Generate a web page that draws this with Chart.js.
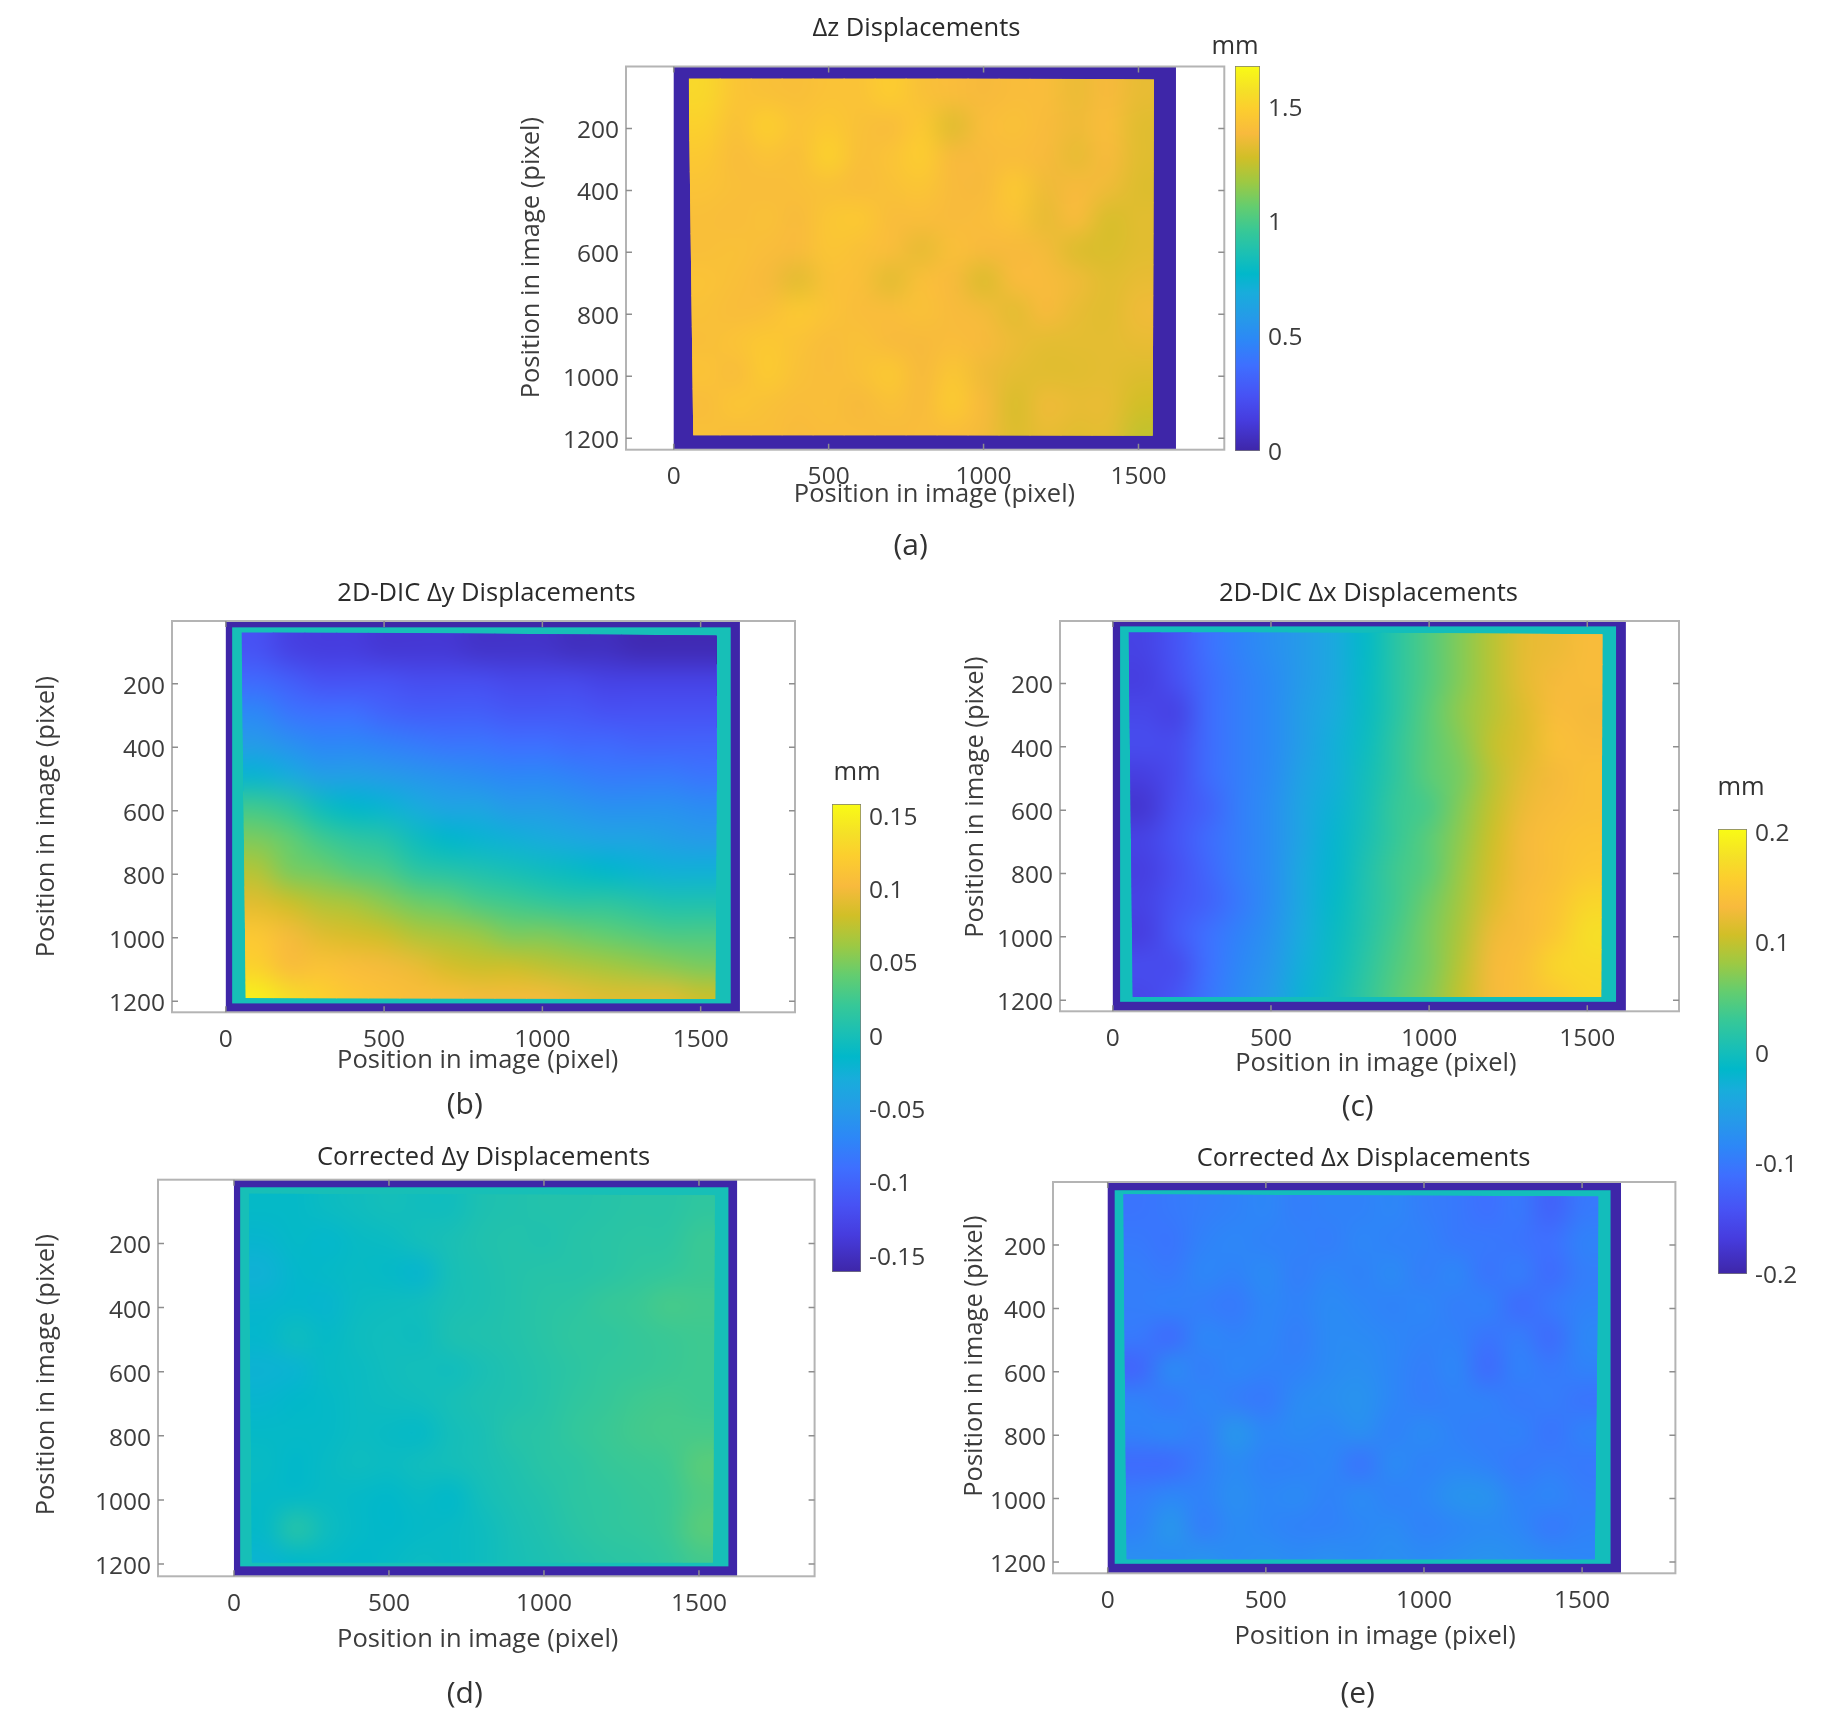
<!DOCTYPE html>
<html>
<head>
<meta charset="utf-8">
<title>Displacements</title>
<style>
  body { margin: 0; background: #fff; }
  #page { position: relative; width: 1822px; height: 1731px; overflow: hidden; }
  canvas { position: absolute; }
  .note { position: absolute; transform: translate(-50%, -50%); white-space: nowrap; color: #333; font-family: "Open Sans", sans-serif; }
</style>
</head>
<body>
<div id="page"></div>
<script src="https://cdn.jsdelivr.net/npm/chart.js@4/dist/chart.umd.js"></script>
<script>
// cell centres of the value grids (image pixels)
const cellX = [100, 200, 300, 400, 500, 600, 700, 800, 900, 1000, 1100, 1200, 1300, 1400, 1500];
const cellY = [90, 190, 290, 390, 490, 590, 690, 790, 890, 990, 1090, 1190];
const xTicks = [0, 500, 1000, 1500];
const yTicks = [200, 400, 600, 800, 1000, 1200];

const zBarTicks = [0, 0.5, 1, 1.5];
const yBarTicks = [-0.15, -0.1, -0.05, 0, 0.05, 0.1, 0.15];
const xBarTicks = [-0.2, -0.1, 0, 0.1, 0.2];

// one row per cellY
const deltaZ = [
  [1.53,1.44,1.42,1.41,1.43,1.43,1.48,1.42,1.40,1.38,1.40,1.40,1.35,1.38,1.34],
  [1.50,1.42,1.49,1.43,1.46,1.42,1.40,1.46,1.32,1.40,1.42,1.39,1.36,1.40,1.32],
  [1.46,1.40,1.43,1.41,1.50,1.41,1.43,1.48,1.38,1.39,1.40,1.38,1.34,1.38,1.32],
  [1.43,1.41,1.40,1.41,1.42,1.40,1.42,1.44,1.39,1.38,1.46,1.36,1.38,1.36,1.31],
  [1.41,1.40,1.42,1.39,1.45,1.46,1.40,1.40,1.39,1.40,1.43,1.34,1.39,1.30,1.32],
  [1.41,1.42,1.40,1.39,1.44,1.42,1.40,1.34,1.41,1.38,1.38,1.37,1.31,1.30,1.32],
  [1.43,1.41,1.38,1.33,1.42,1.41,1.33,1.41,1.38,1.31,1.39,1.39,1.36,1.32,1.34],
  [1.42,1.40,1.41,1.46,1.43,1.40,1.40,1.42,1.39,1.37,1.33,1.38,1.34,1.32,1.36],
  [1.41,1.43,1.46,1.43,1.40,1.42,1.39,1.38,1.40,1.38,1.35,1.33,1.33,1.33,1.34],
  [1.43,1.40,1.47,1.42,1.40,1.42,1.46,1.38,1.45,1.36,1.33,1.32,1.32,1.33,1.31],
  [1.40,1.44,1.42,1.40,1.41,1.38,1.42,1.39,1.47,1.38,1.30,1.36,1.34,1.34,1.28],
  [1.42,1.40,1.41,1.39,1.40,1.40,1.39,1.40,1.40,1.37,1.31,1.34,1.32,1.33,1.25]
];
const dicY = [
  [-.115,-.13,-.135,-.135,-.14,-.14,-.14,-.145,-.145,-.145,-.15,-.15,-.155,-.155,-.155],
  [-.095,-.105,-.115,-.115,-.115,-.12,-.12,-.12,-.125,-.125,-.125,-.13,-.13,-.13,-.13],
  [-.07,-.085,-.09,-.09,-.10,-.105,-.105,-.105,-.11,-.11,-.11,-.115,-.115,-.115,-.115],
  [-.05,-.06,-.07,-.07,-.075,-.08,-.085,-.085,-.09,-.09,-.095,-.095,-.10,-.10,-.10],
  [-.02,-.03,-.045,-.045,-.05,-.055,-.06,-.065,-.07,-.07,-.075,-.08,-.08,-.08,-.085],
  [.025,.015,-.005,-.015,-.02,-.03,-.04,-.04,-.05,-.05,-.055,-.06,-.06,-.06,-.065],
  [.05,.04,.025,.015,.01,-.005,-.015,-.02,-.025,-.03,-.035,-.04,-.04,-.045,-.05],
  [.07,.05,.045,.035,.03,.015,.01,.005,0,-.005,-.01,-.015,-.02,-.025,-.025],
  [.09,.08,.07,.065,.055,.045,.04,.03,.025,.02,.015,.015,.01,.005,.005],
  [.115,.10,.09,.085,.08,.07,.065,.06,.05,.05,.045,.04,.035,.03,.03],
  [.125,.105,.11,.105,.10,.095,.085,.08,.08,.075,.07,.065,.06,.055,.05],
  [.15,.135,.125,.115,.11,.105,.105,.10,.10,.10,.095,.09,.09,.09,.08]
];
const dicX = [
  [-.16,-.14,-.11,-.09,-.075,-.06,-.04,-.012,.02,.045,.07,.095,.12,.125,.135],
  [-.165,-.145,-.115,-.095,-.08,-.06,-.04,-.01,.02,.045,.07,.095,.12,.13,.135],
  [-.155,-.16,-.115,-.095,-.08,-.055,-.035,-.008,.02,.05,.075,.095,.115,.135,.13],
  [-.15,-.15,-.115,-.095,-.08,-.055,-.03,-.005,.025,.05,.07,.10,.115,.14,.135],
  [-.165,-.15,-.115,-.095,-.078,-.05,-.03,0,.025,.05,.065,.095,.12,.13,.14],
  [-.175,-.145,-.125,-.095,-.075,-.045,-.025,.002,.03,.04,.07,.10,.125,.135,.14],
  [-.16,-.14,-.115,-.095,-.075,-.045,-.02,.005,.03,.05,.075,.105,.13,.14,.145],
  [-.165,-.145,-.12,-.095,-.075,-.04,-.018,.01,.035,.05,.08,.11,.13,.14,.15],
  [-.16,-.14,-.125,-.10,-.075,-.04,-.012,.012,.035,.06,.085,.115,.135,.145,.165],
  [-.165,-.135,-.11,-.09,-.07,-.035,-.008,.015,.04,.065,.09,.125,.135,.15,.175],
  [-.15,-.15,-.11,-.085,-.065,-.03,-.005,.02,.045,.065,.095,.13,.14,.165,.17],
  [-.155,-.14,-.105,-.08,-.06,-.025,0,.025,.05,.07,.10,.13,.14,.15,.165]
];
const correctedY = [
  [-.012,-.012,-.008,-.005,-.002,-.004,-.004,.004,.006,.008,.008,.010,.012,.012,.016],
  [-.018,-.012,-.016,-.010,-.008,-.002,.002,.006,.008,.006,.010,.012,.014,.014,.022],
  [-.024,-.016,-.012,-.010,-.012,-.018,.000,.004,.008,.010,.010,.012,.016,.018,.022],
  [-.018,-.016,-.018,-.008,-.006,-.004,.002,.004,.008,.012,.014,.020,.022,.028,.026],
  [-.016,-.006,-.012,-.006,-.004,-.006,.004,.006,.008,.012,.016,.016,.020,.022,.024],
  [-.022,-.020,-.010,-.008,-.004,-.002,-.004,.002,.006,.010,.014,.018,.020,.022,.024],
  [-.018,-.014,-.012,-.008,-.006,-.004,0,.004,.006,.010,.016,.020,.024,.026,.024],
  [-.012,-.012,-.012,-.008,-.010,-.012,-.002,.002,.010,.012,.018,.022,.026,.028,.028],
  [-.010,-.014,-.010,-.006,-.008,-.004,-.002,.002,.006,.012,.014,.020,.022,.024,.036],
  [-.012,-.012,-.010,-.012,-.014,-.010,-.014,-.002,.004,.008,.014,.016,.020,.022,.032],
  [-.012,.010,-.006,-.012,-.014,-.012,-.010,-.006,.002,.006,.012,.016,.018,.022,.036],
  [-.020,-.014,-.012,-.014,-.012,-.008,-.010,-.006,0,.004,.008,.012,.014,.018,.026]
];
const correctedX = [
  [-.105,-.10,-.095,-.09,-.085,-.095,-.09,-.09,-.085,-.095,-.10,-.11,-.10,-.125,-.10],
  [-.10,-.105,-.09,-.085,-.09,-.09,-.095,-.085,-.09,-.09,-.10,-.10,-.105,-.11,-.09],
  [-.095,-.10,-.085,-.09,-.08,-.095,-.085,-.09,-.08,-.095,-.085,-.105,-.095,-.115,-.095],
  [-.095,-.09,-.095,-.10,-.085,-.09,-.08,-.085,-.09,-.085,-.095,-.09,-.115,-.10,-.09],
  [-.10,-.115,-.085,-.09,-.085,-.095,-.08,-.08,-.085,-.09,-.09,-.105,-.095,-.115,-.085],
  [-.12,-.08,-.095,-.085,-.09,-.09,-.08,-.075,-.085,-.095,-.085,-.115,-.09,-.10,-.09],
  [-.09,-.10,-.085,-.095,-.10,-.08,-.075,-.07,-.085,-.095,-.09,-.09,-.10,-.095,-.105],
  [-.09,-.085,-.095,-.065,-.085,-.08,-.085,-.075,-.09,-.08,-.09,-.095,-.09,-.105,-.09],
  [-.115,-.115,-.095,-.08,-.09,-.09,-.085,-.105,-.08,-.09,-.085,-.09,-.10,-.095,-.10],
  [-.095,-.085,-.09,-.075,-.085,-.08,-.09,-.08,-.09,-.085,-.07,-.07,-.09,-.085,-.095],
  [-.09,-.065,-.095,-.08,-.085,-.09,-.09,-.085,-.08,-.09,-.085,-.08,-.085,-.10,-.09],
  [-.075,-.08,-.07,-.08,-.075,-.08,-.075,-.08,-.075,-.08,-.075,-.07,-.075,-.08,-.085]
];

// parula, sampled
const parulaPos = [0, .079, .143, .222, .286, .349, .413, .46, .508, .571, .635, .698, .762, .825, .889, .937, 1];
const parulaHex = ['#3e26a8','#463cde','#4752f4','#3e6fff','#2d87f7','#259be8','#18addb','#01b8ca','#19bfb6','#37c897','#64cd6f','#9dc943','#d1bf27','#f8ba3d','#fcce2e','#f5e027','#f9fb15'];

const tickFont = 24.5;
const labelFont = 25.5;
const inkColor = '#3c3c3c';
const boxColor = '#b4b4b4';
const padLeft = 150, padBelow = 110;

const zRange = [0, 1.677];
const yRange = [-0.161, 0.158];
const xRange = [-0.2, 0.2025];

const panels = [
  { title: 'Δz Displacements', values: deltaZ, range: zRange, box: [625.5, 66.8, 1223.8, 450],
    xSpan: [-154, 1777], ySpan: [0, 1237], frameEnd: 1621, rim: null,
    field: [[48,35],[600,35],[1550,42],[1546,1192],[850,1190],[63,1190]],
    titleAt: [916, 28.6], xLabelAt: [934, 495], yLabelAt: [531, 258] },
  { title: '2D-DIC Δy Displacements', values: dicY, range: yRange, box: [172, 620.7, 795, 1012],
    xSpan: [-170, 1798], ySpan: [2, 1235], frameEnd: 1624, rim: [20, 22, 1595, 1207],
    field: [[50,36],[1555,48],[1546,1193],[63,1190]],
    titleAt: [486.5, 593], xLabelAt: [477.7, 1060], yLabelAt: [46.4, 816.4] },
  { title: '2D-DIC Δx Displacements', values: dicX, range: xRange, box: [1059.6, 620.7, 1678.6, 1011],
    xSpan: [-167, 1790], ySpan: [3, 1235], frameEnd: 1622, rim: [23, 20, 1591, 1205],
    field: [[50,35],[1548,45],[1544,1190],[63,1190]],
    titleAt: [1368, 593], xLabelAt: [1375.5, 1063.6], yLabelAt: [975, 796.8] },
  { title: 'Corrected Δy Displacements', values: correctedY, range: yRange, box: [158, 1180, 814.6, 1576.6],
    xSpan: [-245, 1873], ySpan: [1.4, 1238], frameEnd: 1623, rim: [20, 25, 1595, 1207],
    field: [[48,45],[1552,50],[1545,1195],[58,1195]],
    titleAt: [483.6, 1157.6], xLabelAt: [477.7, 1640], yLabelAt: [46.4, 1375] },
  { title: 'Corrected Δx Displacements', values: correctedX, range: xRange, box: [1053.4, 1181.7, 1675.8, 1573],
    xSpan: [-173, 1795], ySpan: [1, 1236], frameEnd: 1623, rim: [22, 27, 1590, 1206],
    field: [[49,40],[1553,47],[1540,1192],[60,1192]],
    titleAt: [1364, 1158], xLabelAt: [1375.5, 1636], yLabelAt: [975, 1355.8] }
];

const colorbars = [
  { range: zRange, ticks: zBarTicks, box: [1234.8, 66.4, 1259.4, 450.7] },
  { range: yRange, ticks: yBarTicks, box: [832, 804, 861, 1272] },
  { range: xRange, ticks: xBarTicks, box: [1717.5, 829, 1746.4, 1274] }
];

const notes = [
  ['mm', 1235, 43.6], ['mm', 857, 770], ['mm', 1741, 785],
  ['(a)', 910.6, 543], ['(b)', 464.8, 1102], ['(c)', 1357.7, 1104], ['(d)', 464.8, 1690.7], ['(e)', 1357.7, 1690.7]
];

Chart.defaults.font.family = '"Open Sans", sans-serif';
Chart.defaults.color = inkColor;

const page = document.getElementById('page');

function addCanvas(left, top, width, height) {
  const c = document.createElement('canvas');
  c.width = width;
  c.height = height;
  c.style.left = left + 'px';
  c.style.top = top + 'px';
  c.style.width = width + 'px';
  c.style.height = height + 'px';
  page.appendChild(c);
  return c;
}

function hexToRgb(h) {
  return [1, 3, 5].map(i => parseInt(h.substr(i, 2), 16));
}

function parula(f) {
  f = Math.min(1, Math.max(0, f));
  let i = 0;
  while (i < parulaPos.length - 2 && f > parulaPos[i + 1]) i++;
  const t = (f - parulaPos[i]) / (parulaPos[i + 1] - parulaPos[i]);
  const a = hexToRgb(parulaHex[i]), b = hexToRgb(parulaHex[i + 1]);
  return 'rgb(' + a.map((v, k) => Math.round(v + (b[k] - v) * t)).join(',') + ')';
}

function valueColor(v, range) {
  return parula((v - range[0]) / (range[1] - range[0]));
}

// axis titles sit off-centre in the figure, so shift them to where they belong
function placeTitle(scale, x, y) {
  scale.drawTitle = function () {
    const lh = Chart.helpers.toFont(scale.options.title.font).lineHeight;
    const horizontal = scale.isHorizontal();
    const dx = horizontal ? (scale.left + scale.right) / 2 : scale.left + lh / 2;
    const dy = horizontal ? scale.bottom - lh / 2 : (scale.top + scale.bottom) / 2;
    scale.ctx.save();
    scale.ctx.translate(x - dx, y - dy);
    Object.getPrototypeOf(scale).drawTitle.call(scale);
    scale.ctx.restore();
  };
}

// Open Sans digits sit a bit high against the ticks
function dropLabels(scale, by) {
  scale.drawLabels = function (area) {
    scale.ctx.save();
    scale.ctx.translate(0, by);
    Object.getPrototypeOf(scale).drawLabels.call(scale, area);
    scale.ctx.restore();
  };
}

// frame, rim and the smoothed field; matlab style box and inward ticks
function heatLayers(p, titleX) {
  return {
    id: 'heatLayers',
    afterLayout(chart) {
      const block = chart.titleBlock;
      const shift = titleX - (block.left + block.right) / 2;
      block.left += shift;
      block.right += shift;
    },
    beforeDatasetsDraw(chart) {
      const { ctx, scales: { x, y } } = chart;
      ctx.save();
      const rect = (x0, y0, x1, y1, color) => {
        ctx.fillStyle = color;
        ctx.fillRect(x.getPixelForValue(x0), y.getPixelForValue(y0),
          x.getPixelForValue(x1) - x.getPixelForValue(x0), y.getPixelForValue(y1) - y.getPixelForValue(y0));
      };
      rect(0, p.ySpan[0], p.frameEnd, p.ySpan[1], parula(0));
      if (p.rim) rect(p.rim[0], p.rim[1], p.rim[2], p.rim[3], valueColor(0, p.range));
      ctx.beginPath();
      p.field.forEach((c, i) => {
        const px = x.getPixelForValue(c[0]), py = y.getPixelForValue(c[1]);
        if (i) ctx.lineTo(px, py); else ctx.moveTo(px, py);
      });
      ctx.closePath();
      ctx.clip();
    },
    afterDatasetsDraw(chart) {
      const { ctx, chartArea, scales: { x, y } } = chart;
      const small = document.createElement('canvas');
      small.width = cellX.length;
      small.height = cellY.length;
      const sctx = small.getContext('2d');
      p.values.forEach((row, j) => row.forEach((v, i) => {
        sctx.fillStyle = valueColor(v, p.range);
        sctx.fillRect(i, j, 1, 1);
      }));
      const halfW = (cellX[1] - cellX[0]) / 2, halfH = (cellY[1] - cellY[0]) / 2;
      const x0 = x.getPixelForValue(cellX[0] - halfW), x1 = x.getPixelForValue(cellX[cellX.length - 1] + halfW);
      const y0 = y.getPixelForValue(cellY[0] - halfH), y1 = y.getPixelForValue(cellY[cellY.length - 1] + halfH);
      ctx.imageSmoothingEnabled = true;
      ctx.imageSmoothingQuality = 'high';
      ctx.drawImage(small, x0, y0, x1 - x0, y1 - y0);
      ctx.restore();

      const { left, right, top, bottom } = chartArea;
      ctx.save();
      ctx.strokeStyle = boxColor;
      ctx.lineWidth = 2;
      ctx.strokeRect(left, top, right - left, bottom - top);
      ctx.lineWidth = 1.5;
      ctx.strokeStyle = '#8e8e8e';
      ctx.beginPath();
      xTicks.forEach(t => {
        const px = x.getPixelForValue(t);
        ctx.moveTo(px, top); ctx.lineTo(px, top + 6);
        ctx.moveTo(px, bottom); ctx.lineTo(px, bottom - 6);
      });
      yTicks.forEach(t => {
        const py = y.getPixelForValue(t);
        ctx.moveTo(left, py); ctx.lineTo(left + 6, py);
        ctx.moveTo(right, py); ctx.lineTo(right - 6, py);
      });
      ctx.stroke();
      ctx.restore();
    }
  };
}

panels.forEach(p => {
  const [L, T, R, B] = p.box;
  const left = Math.max(0, L - padLeft);
  const width = Math.ceil(R - left + 10);
  const titleLine = labelFont * 1.2;
  const top = p.titleAt[1] - titleLine / 2;
  const height = B - top + padBelow;
  const canvas = addCanvas(left, top, width, Math.ceil(height));
  const points = [];
  p.values.forEach((row, j) => row.forEach((v, i) => points.push({ x: cellX[i], y: cellY[j], v })));

  new Chart(canvas, {
    type: 'scatter',
    data: {
      datasets: [{
        data: points,
        pointStyle: 'rect',
        borderWidth: 0,
        backgroundColor: c => (c.raw ? valueColor(c.raw.v, p.range) : 'transparent'),
        pointRadius: c => {
          const sx = c.chart.scales.x;
          return (sx.getPixelForValue(cellX[1]) - sx.getPixelForValue(cellX[0]) + 1) / Math.SQRT2;
        }
      }]
    },
    options: {
      responsive: false,
      animation: false,
      events: [],
      layout: { padding: { top: 0, left: 0, bottom: Math.ceil(height) - height, right: left + width - R } },
      plugins: {
        legend: { display: false },
        tooltip: { enabled: false },
        title: {
          display: true,
          text: p.title,
          color: '#2a2a2a',
          font: { size: labelFont, weight: 'normal', lineHeight: 1.2 },
          padding: { top: 0, bottom: T - top - titleLine }
        }
      },
      scales: {
        x: {
          type: 'linear',
          position: 'bottom',
          min: p.xSpan[0],
          max: p.xSpan[1],
          grid: { display: false, drawTicks: false },
          border: { display: false },
          afterBuildTicks: s => { s.ticks = xTicks.map(value => ({ value })); },
          afterFit: s => { s.height = padBelow; placeTitle(s, p.xLabelAt[0] - left, p.xLabelAt[1] - top); },
          ticks: { font: { size: tickFont }, padding: 13, maxRotation: 0, callback: v => String(v) },
          title: { display: true, text: 'Position in image (pixel)', color: inkColor, padding: 0, font: { size: labelFont, lineHeight: 1.2 } }
        },
        y: {
          type: 'linear',
          position: 'left',
          reverse: true,
          min: p.ySpan[0],
          max: p.ySpan[1],
          grid: { display: false, drawTicks: false },
          border: { display: false },
          afterBuildTicks: s => { s.ticks = yTicks.map(value => ({ value })); },
          afterFit: s => { s.width = L - left; placeTitle(s, p.yLabelAt[0] - left, p.yLabelAt[1] - top); dropLabels(s, 3); },
          ticks: { font: { size: tickFont }, padding: 7, callback: v => String(v) },
          title: { display: true, text: 'Position in image (pixel)', color: inkColor, padding: 0, font: { size: labelFont, lineHeight: 1.2 } }
        }
      }
    },
    plugins: [heatLayers(p, p.titleAt[0] - left)]
  });
});

colorbars.forEach(cb => {
  const [L, T, R, B] = cb.box;
  const margin = 30, tickRoom = 80;
  const canvas = addCanvas(L, T - margin, Math.ceil(R - L + tickRoom), Math.ceil(B - T + margin * 2));
  new Chart(canvas, {
    type: 'bar',
    data: {
      labels: ['mm'],
      datasets: [{
        data: [cb.range],
        barPercentage: 1,
        categoryPercentage: 1,
        borderWidth: 1,
        borderColor: '#7a7a7a',
        borderSkipped: false,
        backgroundColor: c => {
          const area = c.chart.chartArea;
          if (!area) return parulaHex[0];
          const g = c.chart.ctx.createLinearGradient(0, area.bottom, 0, area.top);
          parulaHex.forEach((h, i) => g.addColorStop(parulaPos[i], h));
          return g;
        }
      }]
    },
    options: {
      responsive: false,
      animation: false,
      events: [],
      layout: { padding: { top: margin, bottom: margin, left: 0, right: 0 } },
      plugins: { legend: { display: false }, tooltip: { enabled: false } },
      scales: {
        x: { display: false },
        y: {
          position: 'right',
          min: cb.range[0],
          max: cb.range[1],
          grid: { display: false, drawTicks: false },
          border: { display: false },
          afterBuildTicks: s => { s.ticks = cb.ticks.map(value => ({ value })); },
          afterFit: s => { s.width = tickRoom; dropLabels(s, 2); },
          ticks: { font: { size: tickFont }, padding: 8, callback: v => String(v) }
        }
      }
    }
  });
});

notes.forEach(n => {
  const d = document.createElement('div');
  d.className = 'note';
  d.textContent = n[0];
  d.style.left = n[1] + 'px';
  d.style.top = n[2] + 'px';
  d.style.fontSize = (n[0] === 'mm' ? 25.5 : 30) + 'px';
  page.appendChild(d);
});
</script>
</body>
</html>
